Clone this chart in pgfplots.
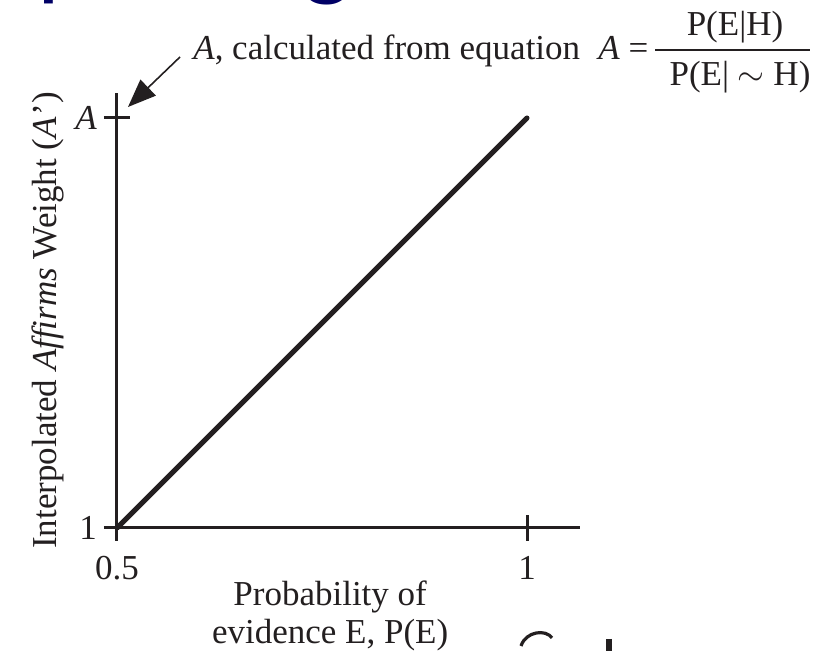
\documentclass[border=0pt]{standalone}
\usepackage{fontspec}
\setmainfont{Liberation Serif}
\newfontfamily\titlefont{Carlito}
\usepackage{pgfplots}
\pgfplotsset{compat=1.18}
\usetikzlibrary{arrows.meta}
\definecolor{ink}{HTML}{231F20}
\definecolor{navy}{HTML}{000066}

\begin{document}
\begin{tikzpicture}[font=\fontsize{17.5}{22}\selectfont]
  % page frame: 410pt x 325.5pt, i.e. 0.5pt per pixel
  \path[use as bounding box] (0pt,0pt) rectangle (410pt,325.5pt);

  \begin{axis}[
    at={(58.5pt,61.5pt)}, anchor=south west,
    x=410pt, y=205pt,
    xmin=0.5, xmax=1.065, ymin=1, ymax=2.06,
    axis x line=bottom, axis y line=left,
    axis line style={-, ink, line width=1.5pt},
    xtick={0.5,1}, xticklabels={0.5,1},
    ytick={1,2}, yticklabels={1,\textit{A}},
    tick align=center, major tick length=13pt,
    every tick/.style={ink, line width=1.5pt},
    /pgf/number format/assume math mode=true,
    tick label style={ink},
    xticklabel style={yshift=-4pt},
    xlabel={Probability of\\evidence E, P(E)},
    xlabel style={align=center, font=\fontsize{17.5}{19}\selectfont,
      at={(rel axis cs:0.46,-0.106)}, anchor=north, ink},
    ylabel={Interpolated \textit{Affirms} Weight (\textit{A}\kern1pt’)},
    ylabel style={at={(rel axis cs:-0.15,0.478)}, anchor=center, ink},
    clip=false,
  ]
    \addplot[ink, line width=2.5pt, line cap=round] coordinates {(0.5,1) (1,2)};
  \end{axis}

  \begin{scope}[x=0.5pt,y=0.5pt]
    % slide title, cut off at the top edge
    \node[navy,anchor=base west,inner sep=0pt,font=\titlefont\fontsize{51}{56}\selectfont]
      at (-28,663) {Updating};

    % annotation arrow and the equation for A
    \draw[ink, line width=0.8pt, -{Triangle[length=14pt,width=11pt]}] (180,594) -- (128,544);
    \node[ink,anchor=base west,inner sep=0pt] at (193,591) {\textit{A}, calculated from equation};
    \node[ink,anchor=base west,inner sep=0pt] at (598,591) {\textit{A} =};
    \draw[ink, line width=0.8pt] (655,601) -- (810,601);
    \node[ink,anchor=base,inner sep=0pt] at (735,615) {P(E|H)};
    \node[ink,anchor=base,inner sep=0pt] at (740,565) {P(E| $\sim$ H)};

    % fragments of the slide's next content at the bottom edge
    \draw[ink, line width=1.6pt] (521,5) .. controls (526,20) and (546,22) .. (552,13);
    \draw[ink, line width=3pt] (609,12) -- (609,-4);
  \end{scope}
\end{tikzpicture}
\end{document}
